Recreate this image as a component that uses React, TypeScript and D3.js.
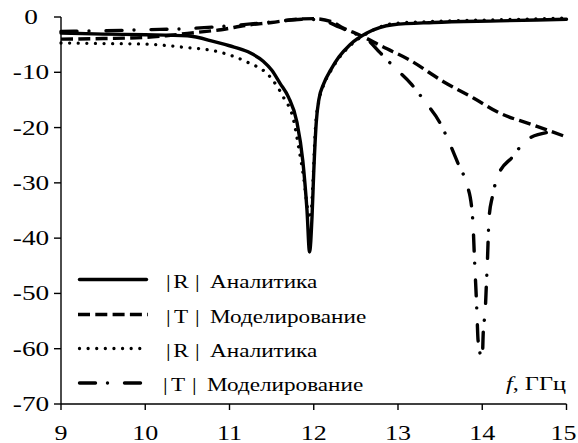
import React from 'react';
import * as d3 from 'd3';

const W = 578;
const H = 443;

const xTicks = [9, 10, 11, 12, 13, 14, 15];
const yTicks = [0, -10, -20, -30, -40, -50, -60, -70];

// |R| Аналитика (solid)
const freqS1 = [9, 9.5, 10, 10.5, 10.83, 11.0, 11.22, 11.4, 11.5, 11.6, 11.7, 11.8, 11.87, 11.92, 11.95, 11.98, 12.0, 12.03, 12.06, 12.12, 12.2, 12.3, 12.43, 12.63, 12.94, 13.42, 14.2, 15];
const valS1 = [-2.9, -3.1, -3.2, -3.4, -4.5, -5.2, -6.3, -8.0, -9.6, -12, -14.5, -19, -26, -35, -42.5, -36, -28, -19, -15, -12, -9.6, -7.2, -5.0, -2.9, -1.4, -1.0, -0.7, -0.4];

// |T| Моделирование (dashed)
const freqS2 = [9, 9.5, 10, 10.3, 10.6, 10.9, 11.2, 11.5, 11.8, 12.0, 12.2, 12.35, 12.55, 12.82, 13.14, 13.54, 13.9, 14.21, 14.6, 15];
const valS2 = [-4.0, -3.9, -3.7, -3.3, -2.8, -2.3, -1.5, -1.0, -0.4, -0.3, -0.8, -2.0, -3.3, -5.4, -7.8, -11.7, -14.7, -17.4, -19.5, -21.7];

// |R| Аналитика (dotted)
const freqS3 = [9, 9.5, 10, 10.41, 10.92, 11.2, 11.48, 11.64, 11.76, 11.82, 11.88, 11.93, 11.96, 11.99, 12.02, 12.06, 12.12, 12.2, 12.3, 12.43, 12.63, 12.94, 13.42, 14.2, 15];
const valS3 = [-4.7, -4.8, -4.9, -5.4, -6.5, -8.1, -10.8, -14.5, -18.6, -23.5, -29, -35, -36.5, -30, -20, -15.3, -12.2, -9.8, -7.4, -5.2, -3.0, -1.2, -0.8, -0.5, -0.2];

// |T| Моделирование (dash-dot)
const freqS4 = [9, 9.5, 10, 10.5, 11.0, 11.5, 11.9, 12.1, 12.3, 12.45, 12.63, 12.79, 12.97, 13.15, 13.32, 13.5, 13.6, 13.71, 13.81, 13.874, 13.893, 13.905, 13.917, 13.929, 13.94, 13.95, 14.0, 14.012, 14.036, 14.05, 14.06, 14.07, 14.08, 14.12, 14.19, 14.36, 14.53, 14.81];
const valS4 = [-2.6, -2.5, -2.3, -2.1, -1.6, -0.9, -0.4, -0.6, -1.8, -2.8, -4.0, -6.5, -9.3, -12, -15.3, -19.2, -22.4, -26.4, -30, -34.4, -38.2, -42.7, -46.7, -50.6, -54.8, -58.4, -61.8, -57, -53, -48, -44.8, -40.3, -36.5, -32.5, -28.6, -25.3, -22.2, -20.8];

const legendSymbols = ['R', 'T', 'R', 'T'];
const legendNames = ['Аналитика', 'Моделирование', 'Аналитика', 'Моделирование'];
const axisTitleItalic = 'f';
const axisTitleRest = ', ГГц';

const FONT = '"Liberation Serif", "Times New Roman", serif';

function Txt({ x, y, size, sx, anchor = 'start', italic = false, children }: any) {
  return (
    <text
      transform={`translate(${x},${y}) scale(${sx},1)`}
      textAnchor={anchor}
      fontFamily={FONT}
      fontSize={size}
      fontStyle={italic ? 'italic' : 'normal'}
      fill="#000"
    >
      {children}
    </text>
  );
}

export default function App() {
  const x = d3.scaleLinear().domain([9, 15]).range([61, 566.5]);
  const y = d3.scaleLinear().domain([0, -70]).range([17, 404]);

  const line = d3
    .line<[number, number]>()
    .x((d) => x(d[0]))
    .y((d) => y(d[1]))
    .curve(d3.curveMonotoneX);

  const zip = (a: number[], b: number[]) => a.map((v, i) => [v, b[i]] as [number, number]);

  const styles = [
    { dash: undefined, cap: 'round', w: 3.4 },
    { dash: '12 5.3', cap: 'butt', w: 3.4 },
    { dash: '0.01 8.6', cap: 'round', w: 3.3 },
    { dash: '16 12 0.01 17', cap: 'round', w: 3.4 },
  ];
  const series = [
    zip(freqS1, valS1),
    zip(freqS2, valS2),
    zip(freqS3, valS3),
    zip(freqS4, valS4),
  ];
  const drawOrder = [3, 1, 2, 0];

  const legendLineY = [279.5, 314.5, 348.5, 383];
  const legendTextY = [287.5, 322.5, 356.5, 391];
  const legendBarX = [166, 166, 166, 163];

  const xLabelSize = 21;
  const xLabelSx = 1.24;

  return (
    <svg
      width={W}
      height={H}
      style={{ position: 'absolute', left: 0, top: 0, background: '#fff' }}
    >
      <rect width={W} height={H} fill="#fff" />
      {/* axes */}
      <line x1={61} x2={61} y1={y(0)} y2={y(-70)} stroke="#000" strokeWidth={1.4} />
      <line x1={61} x2={x(15)} y1={y(-70)} y2={y(-70)} stroke="#000" strokeWidth={1.4} />
      {yTicks.map((t) => (
        <g key={'y' + t}>
          <line x1={54} x2={61} y1={y(t)} y2={y(t)} stroke="#000" strokeWidth={1.4} />
          <Txt x={31} y={y(t) + 7} size={21} sx={1.3} anchor="middle">
            {String(t)}
          </Txt>
        </g>
      ))}
      {xTicks.map((t) => {
        const label = String(t);
        const half = (label.length * xLabelSize * 0.5 * xLabelSx) / 2;
        const lx = Math.min(x(t), W - half - 1.5);
        return (
          <g key={'x' + t}>
            <line x1={x(t)} x2={x(t)} y1={y(-70)} y2={y(-70) + 6} stroke="#000" strokeWidth={1.4} />
            <Txt x={lx} y={440} size={xLabelSize} sx={xLabelSx} anchor="middle">
              {label}
            </Txt>
          </g>
        );
      })}

      {/* series */}
      {drawOrder.map((i) => (
        <path
          key={'s' + i}
          d={line(series[i]) || ''}
          fill="none"
          stroke="#000"
          strokeWidth={styles[i].w}
          strokeDasharray={styles[i].dash}
          strokeLinecap={styles[i].cap as any}
          strokeLinejoin="round"
        />
      ))}

      {/* legend */}
      {legendNames.map((name, i) => (
        <g key={'l' + i}>
          <line
            x1={i === 1 ? 78 : 79.5}
            x2={i === 1 ? 148 : 146.5}
            y1={legendLineY[i]}
            y2={legendLineY[i]}
            stroke="#000"
            strokeWidth={styles[i].w}
            strokeDasharray={styles[i].dash}
            strokeLinecap={styles[i].cap as any}
          />
          <Txt x={legendBarX[i]} y={legendTextY[i]} size={19} sx={1.22}>|</Txt>
          <Txt x={legendBarX[i] + 15} y={legendTextY[i]} size={19} sx={1.22} anchor="middle">
            {legendSymbols[i]}
          </Txt>
          <Txt x={legendBarX[i] + 29} y={legendTextY[i]} size={19} sx={1.22}>|</Txt>
          <Txt x={legendBarX[i] + 44} y={legendTextY[i]} size={19} sx={1.22}>
            {name}
          </Txt>
        </g>
      ))}

      {/* axis title */}
      <text
        transform={`translate(566,390) scale(1.28,1)`}
        textAnchor="end"
        fontFamily={FONT}
        fontSize={19}
        fill="#000"
      >
        <tspan fontStyle="italic">{axisTitleItalic}</tspan>
        <tspan>{axisTitleRest}</tspan>
      </text>
    </svg>
  );
}
